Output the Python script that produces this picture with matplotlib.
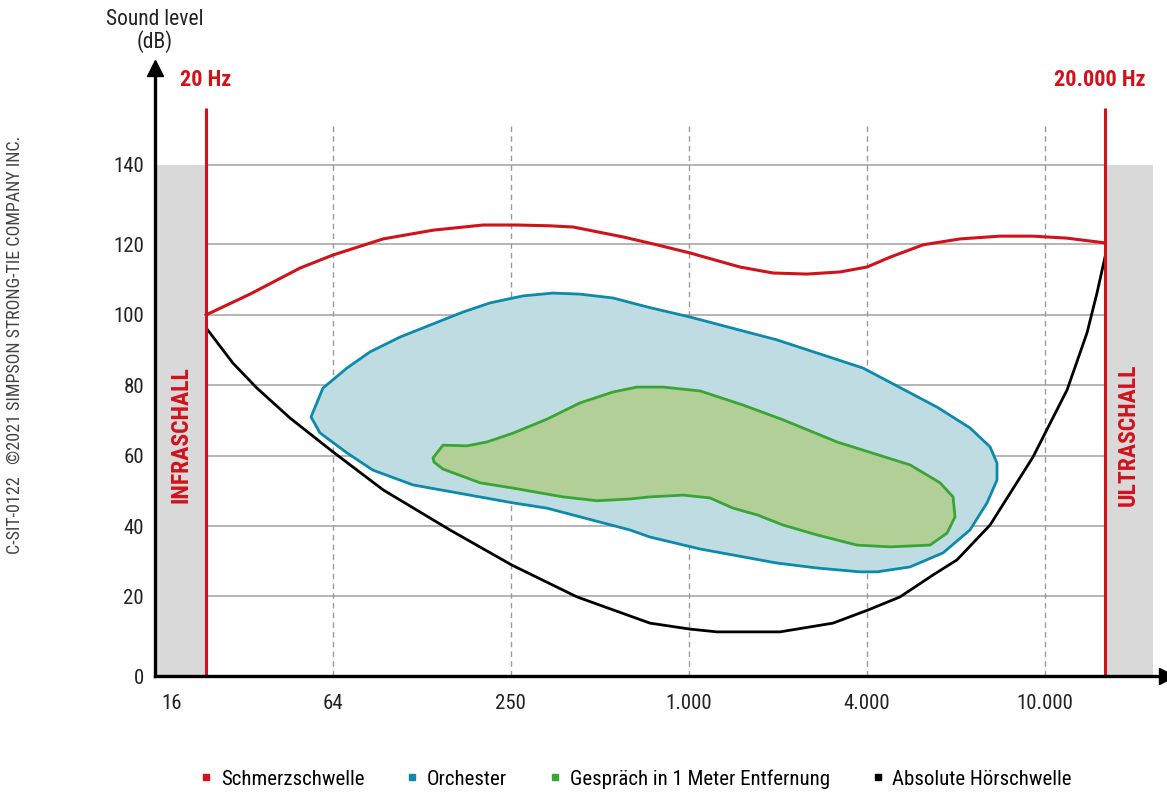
import numpy as np
import matplotlib
matplotlib.use("Agg")
import matplotlib.pyplot as plt
from matplotlib import font_manager
from matplotlib.lines import Line2D

# --- font: condensed look if available ---
available = {f.name for f in font_manager.fontManager.ttflist}
families = [f for f in ["Liberation Sans Narrow", "Roboto Condensed", "Roboto", "DejaVu Sans"] if f in available]
plt.rcParams["font.family"] = families

# ---- data (x = position on the octave axis, 64 Hz = 1, 250 Hz = 2, ...) ----
tick_pos = [0.096, 1, 2, 3, 4, 5]
tick_labels = ["16", "64", "250", "1.000", "4.000", "10.000"]
x_20hz = 0.287
x_20khz = 5.340

# Schmerzschwelle (pain threshold)
pain_x = [0.287, 0.534, 0.815, 1.000, 1.282, 1.563, 1.844, 2.035, 2.220, 2.350, 2.631, 2.822,
          3.007, 3.288, 3.474, 3.665, 3.851, 4.002, 4.132, 4.317, 4.525, 4.750, 4.935, 5.126, 5.340]
pain_db = [100.0, 105.9, 113.3, 117.0, 121.4, 123.6, 124.9, 124.9, 124.7, 124.4, 121.9, 119.9,
           117.6, 113.6, 111.9, 111.6, 112.2, 113.6, 116.4, 119.9, 121.4, 122.1, 122.1, 121.6, 120.4]

# Absolute Hörschwelle (threshold of hearing)
hear_x = [0.292, 0.438, 0.573, 0.759, 1.000, 1.282, 1.658, 2.007, 2.372, 2.782, 3.007, 3.159,
          3.513, 3.811, 4.008, 4.188, 4.373, 4.508, 4.694, 4.935, 5.127, 5.239, 5.295, 5.340]
hear_db = [96.0, 86.3, 79.2, 70.7, 61.1, 50.3, 38.9, 28.9, 19.9, 13.3, 11.8, 11.1,
           11.1, 13.3, 16.6, 19.9, 26.1, 30.4, 40.3, 59.6, 78.7, 94.9, 106.2, 116.4]

# Orchester (closed outline)
orch_x = [0.877, 0.944, 1.079, 1.209, 1.377, 1.546, 1.731, 1.883, 2.069, 2.237, 2.389, 2.575,
          2.771, 3.007, 3.496, 3.980, 4.396, 4.581, 4.694, 4.733, 4.733, 4.677, 4.581, 4.430,
          4.244, 4.058, 3.963, 3.721, 3.496, 3.064, 2.782, 2.670, 2.203, 2.012, 1.450, 1.225,
          1.079, 0.927]
orch_db = [71.0, 79.2, 84.9, 89.5, 93.7, 97.1, 100.8, 103.4, 105.4, 106.2, 105.9, 104.8,
           102.2, 99.4, 92.9, 84.9, 73.8, 67.9, 62.5, 57.9, 53.1, 46.6, 38.9, 32.4,
           28.4, 27.0, 27.0, 28.1, 29.5, 33.5, 36.9, 38.9, 45.1, 46.6, 51.7, 55.9,
           60.8, 66.5]

# Gespräch in 1 Meter Entfernung (closed outline)
talk_x = [1.563, 1.619, 1.754, 1.866, 2.012, 2.204, 2.389, 2.575, 2.709, 2.856, 3.064, 3.305,
          3.530, 3.834, 4.244, 4.413, 4.486, 4.497, 4.452, 4.356, 4.132, 3.946, 3.721, 3.530,
          3.384, 3.249, 3.120, 2.968, 2.782, 2.670, 2.485, 2.293, 2.012, 1.827, 1.619, 1.568]
talk_db = [59.4, 63.0, 62.8, 63.9, 66.4, 70.4, 75.0, 78.1, 79.5, 79.5, 78.4, 74.4,
           70.2, 63.9, 57.4, 52.3, 48.3, 42.6, 38.0, 34.6, 34.1, 34.6, 37.5, 40.3,
           43.2, 45.1, 48.0, 48.8, 48.3, 47.7, 47.2, 48.3, 50.8, 52.3, 56.2, 58.2]

series_names = ["Schmerzschwelle", "Orchester", "Gespräch in 1 Meter Entfernung", "Absolute Hörschwelle"]

RED = "#d0121b"
BLUE = "#0b8aa9"
BLUE_FILL = "#bfdce3"
GREEN = "#3aa535"
GREEN_FILL = "#b1cf97"
BAND = "#d9d9d9"

# piecewise vertical scale (the 0-20 and 120-140 steps are drawn taller)
DB_PTS = [0, 20, 120, 140, 300]
PX_PTS = [0, 79.5, 431.5, 511, 511 + 160 * 3.975]


def fwd(v):
    return np.interp(v, DB_PTS, PX_PTS)


def inv(v):
    return np.interp(v, PX_PTS, DB_PTS)


W, H = 1167, 794
fig = plt.figure(figsize=(W / 100, H / 100), dpi=100)
ax = fig.add_axes([155 / W, 118 / H, 1012 / W, 608 / H])
ax.set_yscale("function", functions=(fwd, inv))
ax.set_xlim(0, 1012 / 177.9)
ax.set_ylim(0, 164.4)

# grey bands for infra / ultra sound
ax.fill_between([0, x_20hz], 0, 140, color=BAND, lw=0, zorder=0)
ax.fill_between([x_20khz, 5.608], 0, 140, color=BAND, lw=0, zorder=0)

# grid
ax.hlines(np.arange(20, 141, 20), x_20hz, x_20khz, color="#a8a8a8", lw=1.2, zorder=1)
ax.vlines(tick_pos[1:], 0, 150.6, color="#9a9a9a", lw=1.0, linestyles=(0, (4, 3)), zorder=1)

# areas
ax.fill(orch_x, orch_db, facecolor=BLUE_FILL, edgecolor=BLUE, lw=2.0, joinstyle="round", zorder=2)
ax.fill(talk_x, talk_db, facecolor=GREEN_FILL, edgecolor=GREEN, lw=2.0, joinstyle="round", zorder=3)

# curves
ax.plot(hear_x, hear_db, color="black", lw=2.0, solid_joinstyle="round", zorder=4)
ax.plot(pain_x, pain_db, color=RED, lw=2.2, solid_joinstyle="round", zorder=5)

# 20 Hz / 20.000 Hz limits
ax.vlines([x_20hz, x_20khz], 0, 154.3, color=RED, lw=2.2, zorder=6)
ax.text(x_20hz, 161.5, "20 Hz", color=RED, fontsize=16, fontweight="bold", ha="center", va="center")
ax.text(x_20khz - 0.03, 161.5, "20.000 Hz", color=RED, fontsize=16, fontweight="bold", ha="center", va="center")
ax.text(0.146, 66, "INFRASCHALL", color=RED, fontsize=17, fontweight="bold", rotation=90,
        ha="center", va="center")
ax.text(5.47, 66, "ULTRASCHALL", color=RED, fontsize=17, fontweight="bold", rotation=90,
        ha="center", va="center")

# axes styling
for s in ["top", "right"]:
    ax.spines[s].set_visible(False)
for s in ["left", "bottom"]:
    ax.spines[s].set_linewidth(2.4)
    ax.spines[s].set_zorder(7)
ax.set_xticks(tick_pos)
ax.set_xticklabels(tick_labels)
ax.set_yticks(np.arange(0, 141, 20))
ax.tick_params(length=0, labelsize=15, colors="#222222")
ax.tick_params(axis="x", pad=13)
ax.tick_params(axis="y", pad=8)
ax.plot(0, 1, "^", color="black", ms=12, transform=ax.transAxes, clip_on=False, zorder=8)
ax.plot(1, 0, ">", color="black", ms=12, transform=ax.transAxes, clip_on=False, zorder=8)

fig.text(155 / W, 1 - 31 / H, "Sound level\n(dB)", ha="center", va="center", fontsize=15.5,
         color="#222222", linespacing=1.0)
fig.text(15 / W, 1 - 345 / H, "C-SIT-0122   ©2021 SIMPSON STRONG-TIE COMPANY INC.", rotation=90,
         ha="center", va="center", fontsize=13, color="#444444")

handles = [Line2D([], [], ls="", marker="s", ms=5, color=c) for c in [RED, BLUE, GREEN, "black"]]
fig.legend(handles, series_names, loc="center", bbox_to_anchor=(636 / W, 15 / H), ncol=4,
           frameon=False, fontsize=15, handlelength=0.6, handletextpad=0.4, columnspacing=2.0)

fig.savefig("out.png", dpi=100)
